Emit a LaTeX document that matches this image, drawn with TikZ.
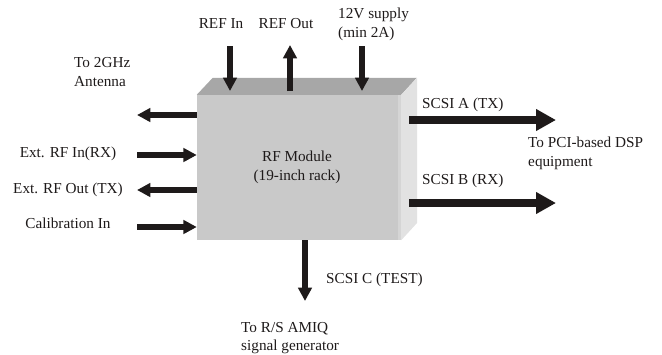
\documentclass[tikz,border=0pt]{standalone}
\usepackage{fontspec}
\setmainfont{Liberation Serif}
\usetikzlibrary{arrows.meta,calc,positioning}
\definecolor{FrontGray}{HTML}{C9C9C9}
\definecolor{TopGray}{HTML}{A7A7A7}
\definecolor{SideGray}{HTML}{E2E2E2}
\definecolor{InkDark}{HTML}{1E1A1A}

\tikzset{
  lbl/.style={inner sep=0pt,text=InkDark,font=\fontsize{13}{16}\selectfont},
  sig/.style={draw=InkDark,line width=5.5*0.03cm,-{Triangle[length=0.40cm,width=0.40cm]}},
  bus/.style={draw=InkDark,line width=7.5*0.03cm,-{Triangle[length=0.60cm,width=0.62cm]}}
}

\begin{document}
\begin{tikzpicture}[x=0.03cm,y=-0.03cm]
        \useasboundingbox (0,0) rectangle (662,354);
        % module box with top and side faces
        \node[fill=FrontGray,minimum width=204*0.03cm,minimum height=145*0.03cm,inner sep=0pt] (rf) at (299,167.5) {};
        \fill[TopGray] (rf.north west) -- ++(16,-17) -- ++(204,0) -- (rf.north east) -- cycle;
        \fill[SideGray] (rf.north east) -- ++(16,-17) -- ++(0,145) -- (rf.south east) -- cycle;
        \fill[SideGray!50!FrontGray] ($(rf.north east)+(-3,0)$) rectangle (rf.south east);
        \node[lbl,align=center] (rfname) at (297,167) {RF Module\\(19-inch rack)};
        % top connectors
        \node[lbl] (refin) at (221,24) {REF In};
        \node[lbl] (refout) at (286,24) {REF Out};
        \node[lbl,align=left,anchor=west] (supply) at (338,24) {12V supply\\(min 2A)};
        \coordinate (refinA) at (230,46);
        \coordinate (refinB) at (230,91);
        \coordinate (refoutA) at (290,91);
        \coordinate (refoutB) at (290,45);
        \coordinate (supplyA) at (362,46);
        \coordinate (supplyB) at (362,91);
        \draw[sig] (refinA) -- (refinB);
        \draw[sig] (refoutA) -- (refoutB);
        \draw[sig] (supplyA) -- (supplyB);
        % left connectors
        \node[lbl,align=left,anchor=west] (ant) at (74,72) {To 2GHz\\Antenna};
        \node[lbl] (extin) at (68,154) {Ext. RF In(RX)};
        \node[lbl] (extout) at (68,190) {Ext. RF Out (TX)};
        \node[lbl] (cal) at (68,223) {Calibration In};
        \draw[sig] (rf.west |- 0,115) -- (137,115);
        \draw[sig] (137,155) -- (rf.west |- 0,155);
        \draw[sig] (rf.west |- 0,190) -- (137,190);
        \draw[sig] (137,227) -- (rf.west |- 0,227);
        % right connectors
        \node[lbl,anchor=west] (scsia) at (422,105) {SCSI A (TX)};
        \node[lbl,anchor=west] (scsib) at (422,181) {SCSI B (RX)};
        \node[lbl,align=left,anchor=west] (pci) at (528,153) {To PCI-based DSP\\equipment};
        \coordinate (scsiaA) at (409,120);
        \coordinate (scsiaB) at (556,120);
        \coordinate (scsibA) at (409,203);
        \coordinate (scsibB) at (556,203);
        \draw[bus] (scsiaA) -- (scsiaB);
        \draw[bus] (scsibA) -- (scsibB);
        % bottom connector
        \node[lbl,anchor=west] (scsic) at (326,280) {SCSI C (TEST)};
        \node[lbl,align=left,anchor=west] (amiq) at (241,338) {To R/S AMIQ\\signal generator};
        \coordinate (scsicB) at (305,301);
        \draw[sig] (rf.south -| scsicB) -- (scsicB);
\end{tikzpicture}
\end{document}
